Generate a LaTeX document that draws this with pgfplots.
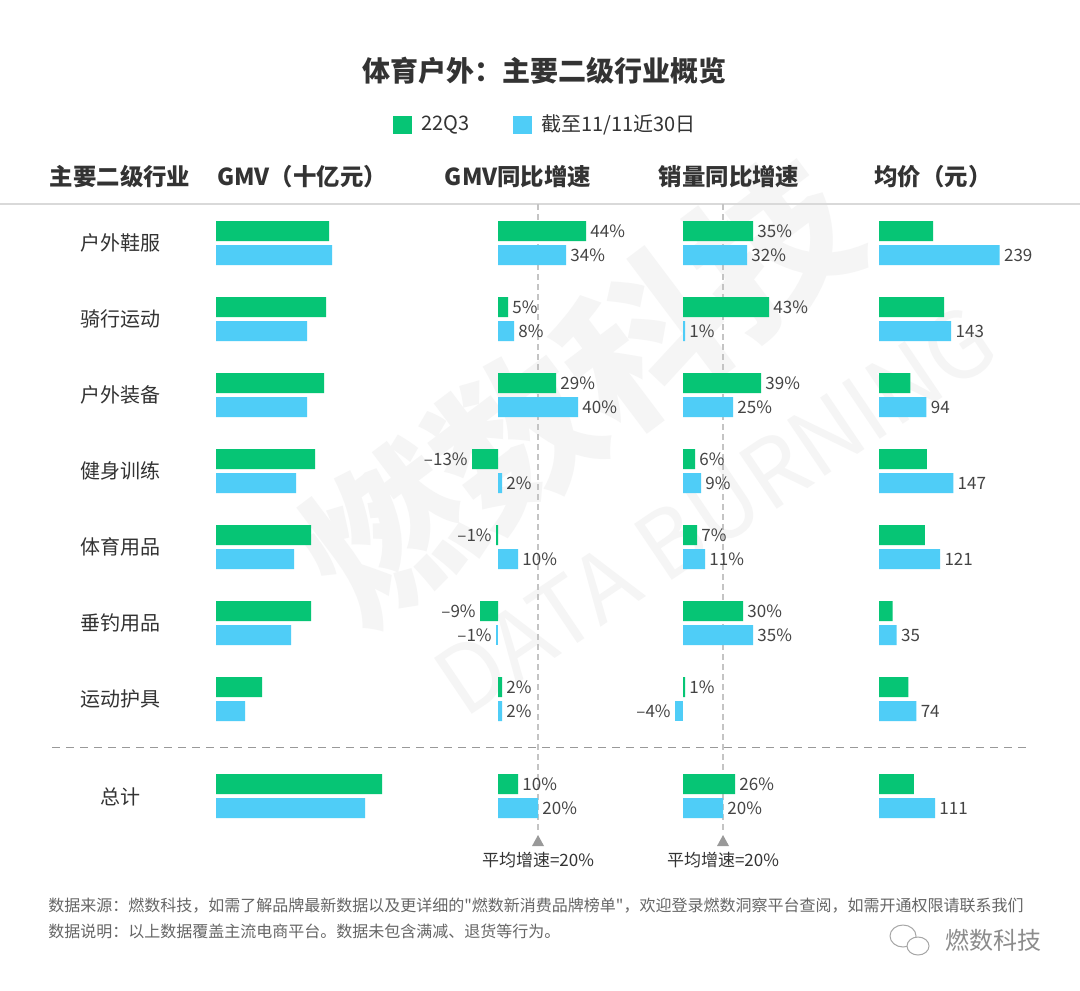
\documentclass[border=0pt]{standalone}
\usepackage{pgfplots}
\pgfplotsset{compat=1.18}
\usepackage{fontspec}
\setmainfont{Noto Sans CJK SC}
\newfontfamily\plainfont{Noto Sans CJK SC}

\definecolor{barGreen}{HTML}{06C575}
\definecolor{barBlue}{HTML}{4FCDF7}
\definecolor{txt}{HTML}{333333}
\definecolor{lbl}{HTML}{444444}
\definecolor{avgline}{HTML}{C4C4C4}
\definecolor{wmark}{HTML}{F5F5F5}

% 1 px of the reference = 0.5pt
\pgfplotsset{
  panel/.style={
    hide axis, scale only axis, clip=false,
    y dir=reverse, ymin=204, ymax=850,
    height=323pt, anchor=north west,
    xbar, bar width=10pt,
  },
  gbar/.style={fill=barGreen, draw=none, bar shift=0pt},
  bbar/.style={fill=barBlue, draw=none, bar shift=0pt},
  lab/.style={nodes near coords, point meta=explicit symbolic,
    every node near coord/.append style={font=\fontsize{8.5}{10}\selectfont, text=lbl, inner sep=2pt, anchor=west}},
  labneg/.style={lab, every node near coord/.append style={anchor=east}},
}

\begin{document}
\begin{tikzpicture}
\begin{scope}[x=0.5pt, y=-0.5pt]
  \path[use as bounding box, fill=white] (0,0) rectangle (1080,990);
  % watermark
  \node[rotate=37, text=wmark, font=\fontsize{80}{80}\selectfont\bfseries] at (580,390) {燃数科技};
  \node[rotate=34, text=wmark, font=\fontsize{46}{46}\selectfont] at (715,510) {DATA BURNING};
  % title and legend
  \node[text=txt, font=\fontsize{14}{16}\selectfont\bfseries] at (544,71) {体育户外：主要二级行业概览};
  \fill[barGreen] (393,116) rectangle (412,134);
  \node[anchor=west, text=txt, font=\fontsize{10}{12}\selectfont, inner sep=0pt] at (421,125) {22Q3};
  \fill[barBlue] (513,116) rectangle (532,134);
  \node[anchor=west, text=txt, font=\fontsize{10}{12}\selectfont, inner sep=0pt] at (541,125) {截至11/11近30日};
  % column headers
  \begin{scope}[every node/.style={text=txt, font=\fontsize{11.7}{14}\selectfont\bfseries}]
    \node at (120,177) {主要二级行业};
    \node at (302,177) {GMV（十亿元）};
    \node at (518,177) {GMV同比增速};
    \node at (729,177) {销量同比增速};
    \node at (933,177) {均价（元）};
  \end{scope}
  \draw[color=black!15, line width=0.6pt] (0,204) -- (1080,204);
  % row names
  \begin{scope}[every node/.style={text=txt, font=\fontsize{10}{12}\selectfont}]
    \node at (120,243) {户外鞋服};
    \node at (120,319) {骑行运动};
    \node at (120,395) {户外装备};
    \node at (120,471) {健身训练};
    \node at (120,547) {体育用品};
    \node at (120,623) {垂钓用品};
    \node at (120,699) {运动护具};
    \node at (120,797) {总计};
  \end{scope}
  \draw[color=black!40, line width=0.5pt, dash pattern=on 4pt off 3pt] (52,747) -- (1031,747);
  % notes
  \begin{scope}[every node/.style={anchor=west, inner sep=0pt, text=black!60, font=\fontsize{8}{10}\selectfont}]
    \node at (48,906) {数据来源：燃数科技，如需了解品牌最新数据以及更详细的{\plainfont"}燃数新消费品牌榜单{\plainfont"}，欢迎登录燃数洞察平台查阅，如需开通权限请联系我们};
    \node at (48,931) {数据说明：以上数据覆盖主流电商平台。数据未包含满减、退货等行为。};
  \end{scope}
  \draw[black!35, line width=0.5pt] (903,936) ellipse (13 and 11);
  \draw[black!35, line width=0.5pt, fill=white] (918,946) ellipse (11 and 9);
  \node[text=black!45, font=\fontsize{12}{14}\selectfont] at (993,940) {燃数科技};
\end{scope}

% GMV (ten billion yuan)
\begin{axis}[panel, at={(108pt,-102pt)}, width=102pt, xmin=0, xmax=20.4]
\addplot[gbar] table {
11.3 231
11.0 307
10.8 383
9.9 459
9.5 535
9.5 611
4.6 687
16.6 784
};
\addplot[bbar] table {
11.6 255
9.1 331
9.1 407
8.0 483
7.8 559
7.5 635
2.9 711
14.9 808
};
\end{axis}

% GMV growth (%)
\begin{axis}[panel, at={(220pt,-102pt)}, width=100pt, xmin=-29, xmax=71]
\draw[avgline, line width=0.8pt, dash pattern=on 3pt off 2pt] (axis cs:20,204) -- (axis cs:20,833);
\fill[black!40] (axis cs:20,835) -- ++(-3pt,-5.5pt) -- ++(6pt,0pt) -- cycle;
\node[text=txt, font=\fontsize{8.5}{10}\selectfont] at (axis cs:20,860) {平均增速=20\%};
\addplot[gbar, lab] table[meta=l] {
x y l
44 231 44\%
5 307 5\%
29 383 29\%
2 687 2\%
10 784 10\%
};
\addplot[gbar, labneg] table[meta=l] {
x y l
-13 459 –13\%
-1 535 –1\%
-9 611 –9\%
};
\addplot[bbar, lab] table[meta=l] {
x y l
34 255 34\%
8 331 8\%
40 407 40\%
2 483 2\%
10 559 10\%
2 711 2\%
20 808 20\%
};
\addplot[bbar, labneg] table[meta=l] {
x y l
-1 635 –1\%
};
\end{axis}

% sales volume growth (%)
\begin{axis}[panel, at={(312.5pt,-102pt)}, width=100pt, xmin=-29, xmax=71]
\draw[avgline, line width=0.8pt, dash pattern=on 3pt off 2pt] (axis cs:20,204) -- (axis cs:20,833);
\fill[black!40] (axis cs:20,835) -- ++(-3pt,-5.5pt) -- ++(6pt,0pt) -- cycle;
\node[text=txt, font=\fontsize{8.5}{10}\selectfont] at (axis cs:20,860) {平均增速=20\%};
\addplot[gbar, lab] table[meta=l] {
x y l
35 231 35\%
43 307 43\%
39 383 39\%
6 459 6\%
7 535 7\%
30 611 30\%
1 687 1\%
26 784 26\%
};
\addplot[bbar, lab] table[meta=l] {
x y l
32 255 32\%
1 331 1\%
25 407 25\%
9 483 9\%
11 559 11\%
35 635 35\%
20 808 20\%
};
\addplot[bbar, labneg] table[meta=l] {
x y l
-4 711 –4\%
};
\end{axis}

% average price (yuan)
\begin{axis}[panel, at={(439.5pt,-102pt)}, width=75pt, xmin=0, xmax=297]
\addplot[gbar] table {
107 231
129 307
62 383
95 459
91 535
27 611
58 687
69 784
};
\addplot[bbar, lab] table[meta=l] {
x y l
239 255 239
143 331 143
94 407 94
147 483 147
121 559 121
35 635 35
74 711 74
111 808 111
};
\end{axis}
\end{tikzpicture}
\end{document}
